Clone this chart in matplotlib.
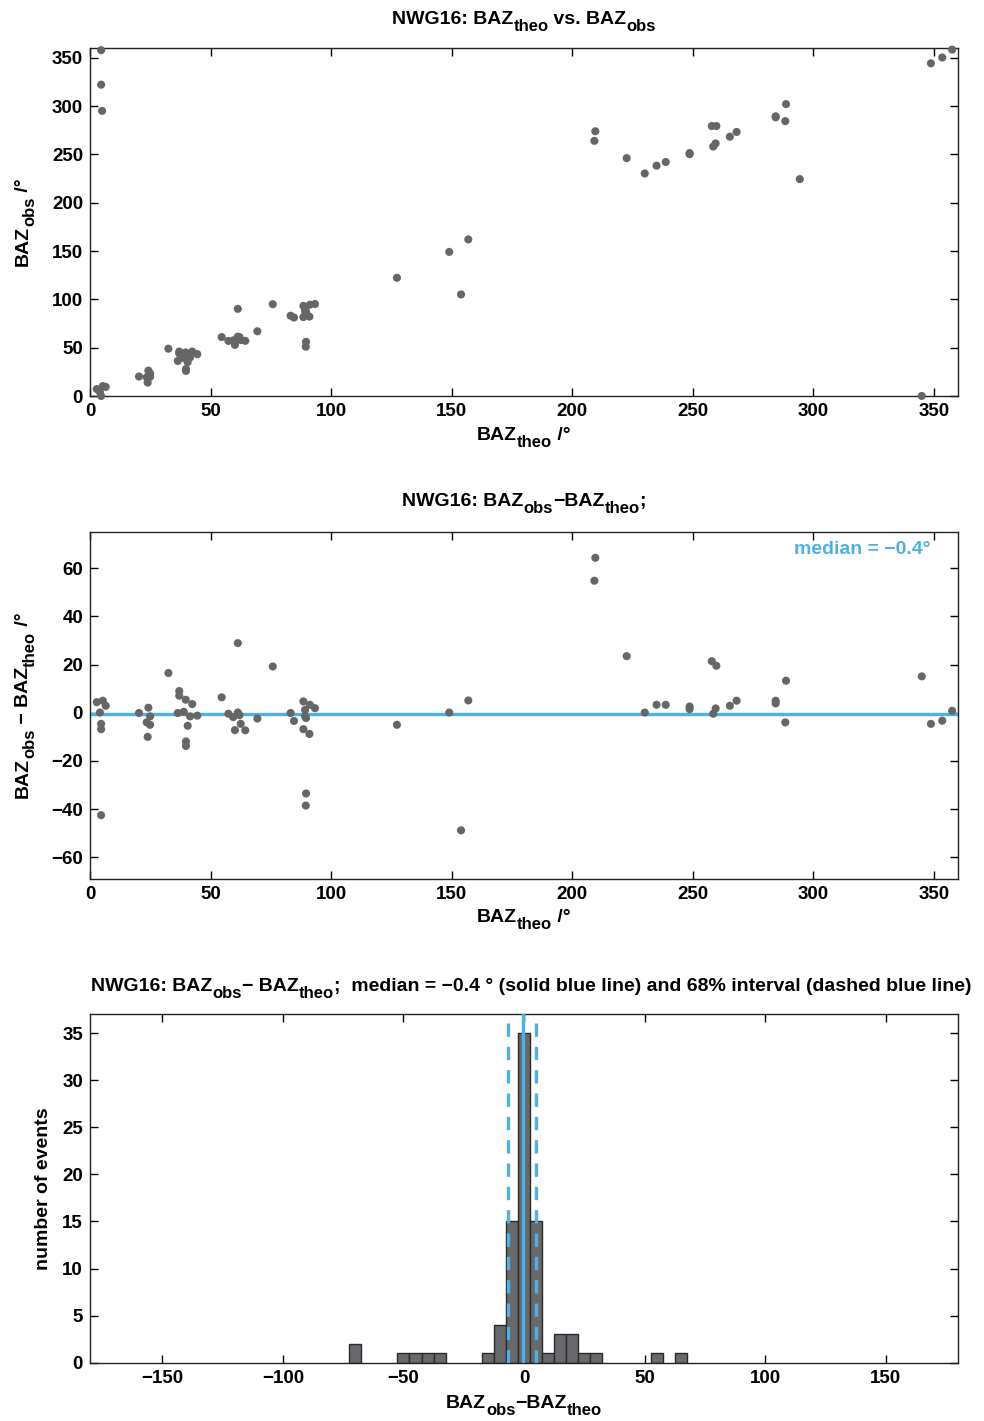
import numpy as np
import matplotlib
matplotlib.use("Agg")
import matplotlib.pyplot as plt
from matplotlib.transforms import offset_copy

plt.rcParams['font.family'] = ['Liberation Sans', 'DejaVu Sans']
plt.rcParams['font.weight'] = 'bold'

# theoretical back azimuth and observed-minus-theoretical residual (deg)
baz_theo = [2.8, 5.3, 6.5, 4.1, 4.6, 4.6, 4.6, 5.0,
            20.3, 24.2, 24.9, 23.5, 24.9, 23.9,
            32.5, 37.0, 37.0, 39.7, 42.4, 36.4, 38.9, 41.5, 44.5, 40.5, 39.8, 39.8,
            54.6, 57.4, 61.3, 59.4, 62.5, 60.1, 64.4, 61.3, 62.0, 69.4, 75.8,
            83.2, 84.6, 88.5, 91.2, 93.3, 89.2, 89.2, 89.6, 88.5, 91.0, 89.6, 89.5,
            127.3, 149.0, 156.9, 153.9,
            209.6, 209.2, 222.6, 230.1, 235.0, 238.8, 248.7, 248.7,
            257.9, 259.8, 258.5, 259.5, 265.4, 268.2,
            284.4, 284.4, 288.7, 288.4, 294.4,
            345.0, 348.8, 353.5, 357.6]
baz_resid = [4.4, 5.0, 2.9, 0.1, -4.6, -6.8, -42.5, -70.0,
             -0.1, 2.1, -1.5, -4.0, -5.0, -10.0,
             16.5, 9.0, 7.1, 5.4, 3.6, -0.1, 0.4, -1.5, -1.2, -5.4, -11.9, -13.8,
             6.4, -0.4, 0.1, -1.8, -4.6, -7.2, -7.3, 28.9, -1.0, -2.4, 19.2,
             -0.1, -3.4, 4.7, 3.3, 1.9, 1.2, -1.5, -2.2, -6.8, -8.8, -33.5, -38.5,
             -5.0, 0.1, 5.1, -48.8,
             64.3, 54.8, 23.5, 0.1, 3.3, 3.3, 2.6, 1.5,
             21.4, 19.5, -0.4, 1.8, 2.9, 5.0,
             5.0, 3.9, 13.3, -4.0, -70.0,
             15.1, -4.6, -3.3, 0.8]

# histogram of residuals, 5 deg bins
bin_centers = [-70, -50, -45, -40, -35, -15, -10, -5, 0, 5, 10, 15, 20, 25, 30, 55, 65]
bin_counts = [2, 1, 1, 1, 1, 1, 4, 15, 35, 15, 1, 3, 3, 1, 1, 1, 1]

median_resid = -0.4
interval_68 = [-6.5, 4.9]

theo = np.array(baz_theo)
resid = np.array(baz_resid)
obs = np.mod(theo + resid, 360)

dot = '#666666'
blue = '#4db0e6'
fs = 14
fs_sub = 12
sub_drop = 5.0
tick_fs = 13.5

fig = plt.figure(figsize=(9.84, 14.21), dpi=100)
renderer = fig.canvas.get_renderer()


def text_width(s, size):
    # width in points, measured with a bar appended so spaces count
    t = fig.text(0, 0, s + '|', fontsize=size, fontweight='bold')
    b = fig.text(0, 0, '|', fontsize=size, fontweight='bold')
    w = t.get_window_extent(renderer).width - b.get_window_extent(renderer).width
    t.remove()
    b.remove()
    return w * 72.0 / fig.dpi


def rich_text(ax, x, y, pieces, dx=0, dy=0, rotation=0, color='black'):
    # pieces: (string, is_subscript); centred on (x, y) in axes coords
    sizes = [fs_sub if sub else fs for _, sub in pieces]
    widths = [text_width(s, sz) for (s, _), sz in zip(pieces, sizes)]
    pos = -sum(widths) / 2.0
    for (s, sub), sz, w in zip(pieces, sizes, widths):
        drop = sub_drop if sub else 0.0
        if rotation == 0:
            ox, oy = pos, -drop
        else:
            ox, oy = drop, pos
        tr = offset_copy(ax.transAxes, fig=fig, x=dx + ox, y=dy + oy, units='points')
        ax.text(x, y, s, transform=tr, fontsize=sz, fontweight='bold', color=color,
                rotation=rotation, rotation_mode='anchor', ha='left', va='baseline',
                clip_on=False)
        pos += w


def style(ax):
    ax.tick_params(direction='in', length=6, width=1, top=True, right=True,
                   labelsize=tick_fs, pad=5)
    for s in ax.spines.values():
        s.set_linewidth(1)
        s.set_color('#222222')


# BAZ_theo vs BAZ_obs
ax1 = fig.add_axes([0.0915, 0.7213, 0.882, 0.2449])
ax1.scatter(theo, obs, s=34, color=dot, edgecolors='none', clip_on=False, zorder=3)
ax1.set_xlim(0, 360)
ax1.set_ylim(0, 360)
ax1.set_xticks(np.arange(0, 351, 50))
ax1.set_yticks(np.arange(0, 351, 50))
style(ax1)
rich_text(ax1, 0.5, 1, [('NWG16: BAZ', 0), ('theo', 1), (' vs. BAZ', 0), ('obs', 1)], dy=17)
rich_text(ax1, 0.5, 0, [('BAZ', 0), ('theo', 1), (' /°', 0)], dy=-31.5)
rich_text(ax1, 0, 0.5, [('BAZ', 0), ('obs', 1), (' /°', 0)], dx=-45, rotation=90)

# residual vs BAZ_theo
ylo, yhi = -69, 75
shown = (resid >= ylo) & (resid <= yhi)
ax2 = fig.add_axes([0.0915, 0.3814, 0.882, 0.2442])
ax2.axhline(median_resid, color=blue, lw=2.4, zorder=2)
ax2.scatter(theo[shown], resid[shown], s=34, color=dot, edgecolors='none', zorder=3)
ax2.set_xlim(0, 360)
ax2.set_ylim(ylo, yhi)
ax2.set_xticks(np.arange(0, 351, 50))
ax2.set_yticks(np.arange(-60, 61, 20))
style(ax2)
ax2.text(0.968, 0.95, 'median = −0.4°', transform=ax2.transAxes, ha='right', va='center',
         color=blue, fontsize=fs, fontweight='bold')
rich_text(ax2, 0.5, 1, [('NWG16: BAZ', 0), ('obs', 1), ('−BAZ', 0), ('theo', 1), (';', 0)], dy=18.5)
rich_text(ax2, 0.5, 0, [('BAZ', 0), ('theo', 1), (' /°', 0)], dx=0, dy=-31)
rich_text(ax2, 0, 0.5, [('BAZ', 0), ('obs', 1), (' − BAZ', 0), ('theo', 1), (' /°', 0)],
          dx=-45, rotation=90)

# histogram of residuals
ax3 = fig.add_axes([0.0915, 0.041, 0.882, 0.2452])
ax3.bar(bin_centers, bin_counts, width=5, color='#68696d', edgecolor='#2a2a2a',
        linewidth=1, zorder=2)
ax3.axvline(median_resid, color=blue, lw=2.4, zorder=3)
for v in interval_68:
    ax3.axvline(v, color=blue, lw=2.4, ls=(0, (4, 3)), zorder=3)
ax3.set_xlim(-180, 180)
ax3.set_ylim(0, 37)
ax3.set_xticks(np.arange(-150, 151, 50))
ax3.set_yticks(np.arange(0, 36, 5))
style(ax3)
rich_text(ax3, 0.5, 1, [('NWG16: BAZ', 0), ('obs', 1), ('− BAZ', 0), ('theo', 1),
                        (';  median = −0.4 ° (solid blue line) and 68% interval (dashed blue line)', 0)],
          dx=5, dy=16.5)
rich_text(ax3, 0.5, 0, [('BAZ', 0), ('obs', 1), ('−BAZ', 0), ('theo', 1)], dy=-32.5)
rich_text(ax3, 0, 0.5, [('number of events', 0)], dx=-30, rotation=90)

fig.savefig('out.png', dpi=100)
